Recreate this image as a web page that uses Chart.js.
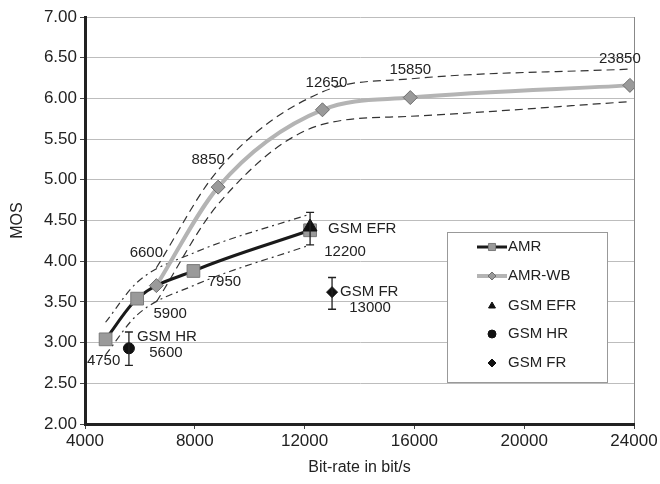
<!DOCTYPE html>
<html>
<head>
<meta charset="utf-8">
<script src="https://cdn.jsdelivr.net/npm/chart.js@4.4.1/dist/chart.umd.min.js"></script>
<style>
  html, body { margin: 0; padding: 0; background: #fff; }
  #wrap { width: 660px; height: 484px; }
</style>
</head>
<body>
<div id="wrap"><canvas id="mosChart"></canvas></div>
<script>
// AMR narrowband
const amrRate = [4750, 5900, 7950, 12200];
const amrMos = [3.04, 3.54, 3.88, 4.38];
const amrUpper = [3.25, 3.74, 4.10, 4.58];
const amrLower = [2.85, 3.34, 3.70, 4.20];

// AMR wideband
const wbRate = [6600, 8850, 12650, 15850, 23850];
const wbMos = [3.70, 4.91, 5.86, 6.01, 6.16];
const wbUpper = [3.92, 5.12, 6.08, 6.24, 6.36];
const wbLower = [3.50, 4.70, 5.68, 5.78, 5.96];

// GSM codecs with confidence intervals
const gsmNames = ['GSM EFR', 'GSM HR', 'GSM FR'];
const gsmRate = [12200, 5600, 13000];
const gsmMos = [4.42, 2.93, 3.62];
const gsmLow = [4.20, 2.72, 3.41];
const gsmHigh = [4.60, 3.13, 3.80];

const xMin = 4000, xMax = 24000, xStep = 4000;
const yMin = 2, yMax = 7, yStep = 0.5;

const pts = (xs, ys) => xs.map((x, i) => ({ x: x, y: ys[i] }));

// text next to the points: [text, x, y, dx, dy, align]
const notes = [
    ['4750', amrRate[0], amrMos[0], -2, 22, 'center'],
    ['5900', amrRate[1], amrMos[1], 33, 15, 'center'],
    ['7950', amrRate[2], amrMos[2], 31, 11, 'center'],
    ['12200', amrRate[3], amrMos[3], 35, 22, 'center'],
    ['6600', wbRate[0], wbMos[0], -10, -33, 'center'],
    ['8850', wbRate[1], wbMos[1], -10, -27, 'center'],
    ['12650', wbRate[2], wbMos[2], 4, -27, 'center'],
    ['15850', wbRate[3], wbMos[3], 0, -28, 'center'],
    ['23850', wbRate[4], wbMos[4], -10, -27, 'center'],
    [gsmNames[0], gsmRate[0], gsmMos[0], 18, 2, 'left'],
    [gsmNames[1], gsmRate[1], gsmMos[1], 8, -11, 'left'],
    ['5600', gsmRate[1], gsmMos[1], 37, 5, 'center'],
    [gsmNames[2], gsmRate[2], gsmMos[2], 8, 0, 'left'],
    ['13000', gsmRate[2], gsmMos[2], 38, 16, 'center']
];

const FONT = '"Liberation Sans", Arial, sans-serif';

const errorBars = {
    id: 'errorBars',
    afterDatasetsDraw(chart) {
        const { ctx, scales: { x, y } } = chart;
        ctx.save();
        ctx.strokeStyle = '#222';
        ctx.lineWidth = 1.3;
        gsmRate.forEach((r, i) => {
            const px = x.getPixelForValue(r);
            const top = y.getPixelForValue(gsmHigh[i]);
            const bot = y.getPixelForValue(gsmLow[i]);
            ctx.beginPath();
            ctx.moveTo(px, top); ctx.lineTo(px, bot);
            ctx.moveTo(px - 4, top); ctx.lineTo(px + 4, top);
            ctx.moveTo(px - 4, bot); ctx.lineTo(px + 4, bot);
            ctx.stroke();
        });
        ctx.restore();
    }
};

const pointNotes = {
    id: 'pointNotes',
    afterDraw(chart) {
        const { ctx, scales: { x, y } } = chart;
        ctx.save();
        ctx.font = '15px ' + FONT;
        ctx.fillStyle = '#222';
        ctx.textBaseline = 'middle';
        notes.forEach(n => {
            ctx.textAlign = n[5];
            ctx.fillText(n[0], x.getPixelForValue(n[1]) + n[3], y.getPixelForValue(n[2]) + n[4]);
        });
        ctx.restore();
    }
};

// legend box inside the plot
const boxLegend = {
    id: 'boxLegend',
    afterDraw(chart) {
        const { ctx } = chart;
        const bx = 447, by = 232, bw = 160, bh = 150;
        ctx.save();
        ctx.fillStyle = '#fff';
        ctx.fillRect(bx, by, bw, bh);
        ctx.strokeStyle = '#999';
        ctx.lineWidth = 1;
        ctx.strokeRect(bx + 0.5, by + 0.5, bw, bh);
        ctx.font = '15px ' + FONT;
        ctx.textBaseline = 'middle';
        ctx.textAlign = 'left';
        const rowY = [247, 276, 306, 334, 363];
        const legendSets = chart.data.datasets.filter(d => d.inLegend);
        legendSets.forEach((ds, i) => {
            const yy = rowY[i];
            if (ds.showLine) {
                ctx.strokeStyle = ds.borderColor;
                ctx.lineWidth = ds.borderWidth;
                ctx.beginPath();
                ctx.moveTo(477, yy); ctx.lineTo(507, yy);
                ctx.stroke();
            }
            ctx.fillStyle = ds.pointBackgroundColor;
            ctx.strokeStyle = ds.pointBorderColor;
            ctx.lineWidth = 1;
            Chart.helpers.drawPoint(ctx, {
                pointStyle: ds.pointStyle,
                radius: ds.legendRadius,
                borderWidth: 1
            }, 492, yy);
            ctx.fillStyle = '#222';
            ctx.fillText(ds.label, 508, yy);
        });
        ctx.restore();
    }
};

const ctx = document.getElementById('mosChart');

new Chart(ctx, {
    type: 'scatter',
    data: {
        datasets: [
            {
                label: 'GSM EFR', inLegend: false, order: 0,
                data: pts([gsmRate[0]], [gsmMos[0]]),
                pointStyle: 'triangle', pointRadius: 8,
                pointBackgroundColor: '#111', pointBorderColor: '#111', showLine: false
            },
            {
                label: 'AMR', inLegend: true, order: 2,
                data: pts(amrRate, amrMos),
                showLine: true, borderColor: '#1a1a1a', borderWidth: 3,
                cubicInterpolationMode: 'monotone',
                pointStyle: 'rect', pointRadius: 9, legendRadius: 5,
                pointBackgroundColor: '#9a9a9a', pointBorderColor: '#7a7a7a', pointBorderWidth: 1
            },
            {
                label: 'AMR-WB', inLegend: true, order: 1,
                data: pts(wbRate, wbMos),
                showLine: true, borderColor: '#b4b4b4', borderWidth: 4,
                cubicInterpolationMode: 'monotone',
                pointStyle: 'rectRot', pointRadius: 7, legendRadius: 4,
                pointBackgroundColor: '#9a9a9a', pointBorderColor: '#6e6e6e', pointBorderWidth: 1
            },
            {
                label: gsmNames[0], inLegend: true, order: 3,
                data: [],
                showLine: false, pointStyle: 'triangle', legendRadius: 4,
                pointBackgroundColor: '#111', pointBorderColor: '#111'
            },
            {
                label: gsmNames[1], inLegend: true, order: 0,
                data: pts([gsmRate[1]], [gsmMos[1]]),
                showLine: false, pointStyle: 'circle', pointRadius: 5.5, legendRadius: 4,
                pointBackgroundColor: '#111', pointBorderColor: '#111'
            },
            {
                label: gsmNames[2], inLegend: true, order: 0,
                data: pts([gsmRate[2]], [gsmMos[2]]),
                showLine: false, pointStyle: 'rectRot', pointRadius: 5.5, legendRadius: 4,
                pointBackgroundColor: '#111', pointBorderColor: '#111'
            },
            {
                label: 'AMR upper', order: 4,
                data: pts(amrRate, amrUpper), showLine: true, pointRadius: 0,
                borderColor: '#333', borderWidth: 1.2, borderDash: [7, 4, 2, 4],
                cubicInterpolationMode: 'monotone'
            },
            {
                label: 'AMR lower', order: 4,
                data: pts(amrRate, amrLower), showLine: true, pointRadius: 0,
                borderColor: '#333', borderWidth: 1.2, borderDash: [7, 4, 2, 4],
                cubicInterpolationMode: 'monotone'
            },
            {
                label: 'AMR-WB upper', order: 4,
                data: pts(wbRate, wbUpper), showLine: true, pointRadius: 0,
                borderColor: '#333', borderWidth: 1.2, borderDash: [8, 5],
                cubicInterpolationMode: 'monotone'
            },
            {
                label: 'AMR-WB lower', order: 4,
                data: pts(wbRate, wbLower), showLine: true, pointRadius: 0,
                borderColor: '#333', borderWidth: 1.2, borderDash: [8, 5],
                cubicInterpolationMode: 'monotone'
            }
        ]
    },
    options: {
        responsive: true,
        maintainAspectRatio: false,
        animation: false,
        layout: { padding: { top: 17, right: 26, left: 0, bottom: 7 } },
        plugins: {
            legend: { display: false },
            tooltip: { enabled: false }
        },
        scales: {
            x: {
                type: 'linear', min: xMin, max: xMax,
                afterFit: s => { s.height = 53; },
                ticks: {
                    stepSize: xStep, color: '#222',
                    font: { family: FONT, size: 17 }, padding: 2,
                    callback: v => String(v)
                },
                grid: {
                    color: c => (c.tick && c.tick.value === xMax) ? '#888' : 'rgba(0,0,0,0)',
                    tickColor: '#444', tickLength: 5
                },
                border: { color: '#222', width: 3 },
                title: {
                    display: true, text: 'Bit-rate in bit/s', color: '#222',
                    font: { family: FONT, size: 16 }, padding: { top: 2, bottom: 0 }
                }
            },
            y: {
                min: yMin, max: yMax,
                afterFit: s => { s.width = 85; },
                ticks: {
                    stepSize: yStep, color: '#222',
                    font: { family: FONT, size: 17 }, padding: 3,
                    callback: v => v.toFixed(2)
                },
                grid: { color: '#bdbdbd', tickColor: '#444', tickLength: 5 },
                border: { color: '#222', width: 3 },
                title: {
                    display: true, text: 'MOS', color: '#222',
                    font: { family: FONT, size: 16 }, padding: { top: 8, bottom: 0 }
                }
            }
        }
    },
    plugins: [errorBars, pointNotes, boxLegend]
});
</script>
</body>
</html>
